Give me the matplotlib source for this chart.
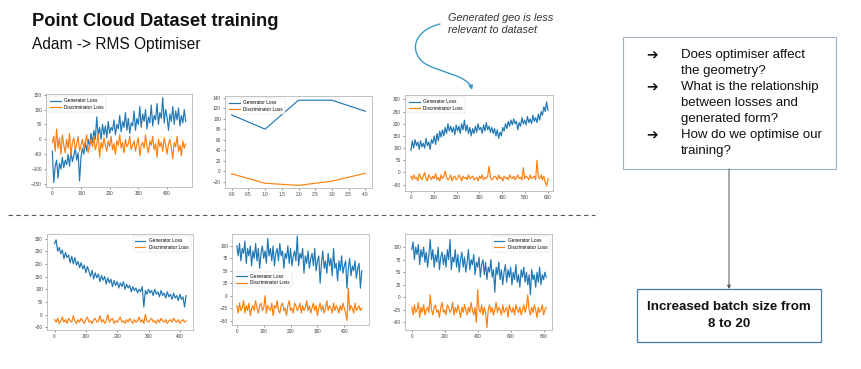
import numpy as np
import matplotlib
matplotlib.use("Agg")
import matplotlib.pyplot as plt
from matplotlib.patches import Rectangle, FancyArrowPatch
from matplotlib.path import Path

plt.rcParams["font.family"] = ["Liberation Sans", "DejaVu Sans"]

BLUE = "#1f77b4"
ORANGE = "#ff7f0e"

# --- panel 1: top left (step 5)
gen1 = [-40, -145, -90, -70, -130, -80, -100, -60, -95, -70, -85, -50, -90, -40, -75, -55,
        -30, -70, -45, -140, -60, -30, -50, -10, -40, 0, -25, 20, -15, 30, 0, 75, 10, 40, 0,
        50, 15, 45, 5, 60, 20, 40, 30, 65, 15, 50, 35, 80, 25, 60, 40, 90, 30, 70, 20, 55, 45,
        95, 30, 70, 50, 110, 40, 85, 60, 100, 35, 75, 55, 115, 45, 80, 65, 120, 50, 90, 70,
        140, 55, 100, 75, 30, 85, 60, 110, 50, 95, 65, 105, 45, 80, 55, 100, 60]
disc1 = [-10, 10, -40, 35, -30, 5, -50, 15, -20, -45, 0, -30, 20, -55, -10, 5, -35, -15, 10,
         -40, -20, 0, -30, -10, 15, -45, -20, 0, -25, 10, -35, -15, 20, -60, -10, -30, 5, -20,
         -40, -5, -25, 10, -35, -15, -50, -5, -20, 15, -30, -10, -45, 0, -25, -15, 10, -35, -20,
         -5, -40, -15, 5, -55, -20, -10, -30, 15, -25, -45, -5, -20, 10, -35, -15, -60, 0, -25,
         -10, -40, 5, -20, -50, -15, 0, -30, -65, -10, -25, 10, -40, -20, -55, -5, -30, -15]

# --- panel 2: top middle (5 epochs)
gen2 = [107, 80, 135, 135, 114]
disc2 = [-5, -23, -27, -19, -4]

# --- panel 3: top right (step 6)
gen3 = [90, 130, 100, 135, 110, 125, 95, 130, 105, 120, 100, 140, 110, 125, 95, 135, 120, 150,
        115, 160, 130, 170, 145, 175, 150, 185, 160, 200, 170, 190, 165, 185, 155, 195, 170, 190,
        160, 200, 175, 215, 170, 195, 160, 185, 150, 180, 160, 190, 165, 200, 175, 185, 160, 195,
        170, 205, 175, 190, 165, 185, 160, 180, 150, 175, 140, 165, 150, 185, 170, 200, 180, 210,
        190, 215, 195, 220, 200, 210, 175, 205, 190, 225, 200, 215, 195, 230, 205, 220, 200, 235,
        210, 225, 205, 240, 215, 250, 235, 270, 250, 290, 255]
disc3 = [-15, -30, -10, -25, -20, -35, -5, -20, -30, -15, 0, -25, -35, -10, -20, -30, -15, -25,
         -5, -30, -20, -35, -10, -25, -15, 5, -20, -30, -25, -10, -35, -20, -15, -30, -25, -10,
         -20, -35, -15, -25, -20, -30, -10, -25, -20, -15, -30, -25, -20, -35, -15, -25, -10, -30,
         -20, -25, -15, 25, -20, -30, -25, -15, -20, -30, -10, -25, -20, -35, -15, -25, -20, -30,
         -10, -20, -25, -15, -30, -20, -10, -25, -20, -30, 20, -25, -15, -20, -30, -10, -25, -20,
         -15, -30, 50, -20, -25, -10, -30, -15, -40, -55, -25]

# --- panel 4: bottom left (step 5)
gen4 = [280, 295, 250, 265, 240, 255, 220, 245, 225, 235, 205, 230, 200, 225, 195, 210, 185, 205,
        180, 195, 165, 190, 170, 150, 175, 140, 165, 145, 160, 130, 155, 135, 150, 120, 145, 125,
        140, 110, 135, 115, 130, 105, 125, 110, 130, 100, 120, 105, 115, 90, 110, 95, 105, 85,
        100, 90, 110, 30, 95, 80, 100, 85, 95, 75, 100, 80, 90, 70, 95, 75, 85, 65, 90, 70, 80,
        60, 85, 65, 75, 55, 80, 60, 70, 30, 75]
disc4 = [-20, -30, -15, -35, -25, -10, -30, -20, -35, -15, -25, -30, -5, -25, -35, -20, -30, -15,
         -25, -35, -20, -10, -30, -25, -35, -20, -15, -30, -25, -5, -30, -20, -35, -25, 0, -30,
         -20, -15, -35, -25, -30, -20, -10, -30, -25, -35, -20, -30, -15, -25, -35, -20, -30, -25,
         -10, -30, -20, -35, 0, -25, -30, -20, -15, -30, -25, -35, -20, -30, -15, -25, -30, -20,
         -35, -25, -20, -30, -15, -25, -30, -20, -35, -25, -20, -30, -25]

# --- panel 5: bottom middle (step 5)
gen5 = [100, 80, 105, 70, 95, 85, 110, 65, 95, 80, 100, 60, 90, 75, 105, 70, 95, 55, 85, 100, 75,
        90, 65, 115, 80, 95, 70, 100, 60, 85, 95, 70, 105, 80, 90, 55, 85, 75, 100, 65, 95, 60,
        80, 90, 70, 120, 60, 85, 75, 95, 45, 80, 65, 90, 55, 75, 85, 60, 95, 50, 70, 80, 25, 65,
        90, 55, 70, 45, 85, 60, 75, 40, 95, 55, 65, 30, 70, 50, 80, 45, 60, 70, 15, 55, 75, 40,
        60, 50, 70, 35, 55, 65, 15, 50]
disc5 = [-20, -35, -15, -30, -25, -10, -35, -20, -30, -15, -40, -25, -20, -30, -10, -25, -35, -20,
         -15, -30, -25, 0, -35, -20, -25, -30, -15, -40, -20, -25, -10, -30, -35, -20, -15, -30,
         -25, -40, -20, -10, -30, -25, -35, -15, -20, -30, -25, -15, -35, -20, -30, -25, -10, -30,
         -20, -35, -25, -15, -30, -20, -40, -25, -15, -30, -20, -35, -25, -10, -30, -20, -25, -35,
         -15, -30, -20, -25, -35, -20, -30, -15, -25, -35, -50, 15, -30, -20, -25, -35, -15, -30,
         -25, -20, -30, -25]

# --- panel 6: bottom right (step 8)
gen6 = [95, 110, 75, 100, 85, 105, 65, 95, 80, 100, 70, 90, 60, 85, 115, 75, 95, 60, 85, 70, 100,
        55, 80, 90, 65, 85, 60, 95, 75, 115, 55, 80, 70, 95, 60, 85, 50, 75, 90, 60, 80, 50, 70,
        95, 55, 75, 65, 85, 45, 70, 60, 80, 40, 65, 75, 45, 70, 35, 60, 50, 75, 40, 55, 10, 60,
        45, 70, 35, 55, 25, 50, 65, 30, 55, 40, 60, 25, 50, 35, 65, 30, 45, 20, 55, 40, 60, 30,
        50, 25, 45, 5, 55, 35, 45, 20, 50, 30, 60, 25, 45, 35, 50, 40]
disc6 = [-20, -35, -15, -30, -25, -10, -40, -20, -30, -15, -35, -25, -20, -30, 5, -25, -35, -20,
         -15, -30, -25, -40, -20, -10, -30, -25, -35, -15, -20, -30, -25, -10, -35, -20, -30, -15,
         -25, -40, -20, -30, -15, -25, -35, -20, -30, -10, -25, -35, -20, -50, 15, -25, -30, -15,
         -35, -20, -30, -60, -25, -15, -30, -20, -35, -25, -10, -30, -20, -25, -35, -15, -30, -25,
         -20, -40, -15, -25, -30, -20, -35, -15, -25, -30, -20, -35, -25, -15, -30, -20, 5, -25,
         -35, -20, -30, -15, -25, -40, -20, -30, -25, -15, -35, -25, -20]

# (gen, disc, epoch step, pixel box l/t/r/b, xlim, ylim, xticks, yticks, legend loc)
PANELS = [
    (gen1, disc1, 5, (46, 94, 192, 187), (-22, 487), (-160, 152),
     [0, 100, 200, 300, 400], [-150, -100, -50, 0, 50, 100, 150], "upper left"),
    (gen2, disc2, 1, (225, 96, 372, 188), (-0.2, 4.2), (-32, 143),
     [0, 0.5, 1, 1.5, 2, 2.5, 3, 3.5, 4], [-20, 0, 20, 40, 60, 80, 100, 120, 140], "upper left"),
    (gen3, disc3, 6, (405, 95, 553, 191), (-26, 622), (-76, 318),
     [0, 100, 200, 300, 400, 500, 600], [-50, 0, 50, 100, 150, 200, 250, 300], "upper left"),
    (gen4, disc4, 5, (47, 234, 193, 330), (-24, 442), (-61, 318),
     [0, 100, 200, 300, 400], [-50, 0, 50, 100, 150, 200, 250, 300], "upper right"),
    (gen5, disc5, 5, (232, 234, 369, 325), (-18, 492), (-59, 124),
     [0, 100, 200, 300, 400], [-50, -25, 0, 25, 50, 75, 100], "center left"),
    (gen6, disc6, 8, (405, 234, 552, 330), (-41, 851), (-65, 126),
     [0, 200, 400, 600, 800], [-50, -25, 0, 25, 50, 75, 100], "upper right"),
]

W, H = 861, 369


def draw_panel(fig, gen, disc, step, box, xlim, ylim, xt, yt, loc):
    l, t, r, b = box
    ax = fig.add_axes([l / W, 1 - b / H, (r - l) / W, (b - t) / H])
    ax.plot(np.arange(len(gen)) * step, gen, color=BLUE, lw=0.85, label="Generator Loss")
    ax.plot(np.arange(len(disc)) * step, disc, color=ORANGE, lw=0.85, label="Discriminator Loss")
    ax.set_xlim(*xlim)
    ax.set_ylim(*ylim)
    ax.set_xticks(xt)
    ax.set_yticks(yt)
    if step == 1:
        ax.set_xticklabels([f"{v:.1f}" for v in xt])
    ax.tick_params(labelsize=3.4, length=1.5, width=0.4, pad=1.5, colors="#444444")
    for s in ax.spines.values():
        s.set_linewidth(0.5)
        s.set_color("#aaaaaa")
    lg = ax.legend(loc=loc, fontsize=3.4, handlelength=2.2, borderpad=0.4,
                   labelspacing=0.3, fancybox=True)
    lg.get_frame().set_linewidth(0.3)
    return ax


def main():
    fig = plt.figure(figsize=(W / 100, H / 100), dpi=100)
    bg = fig.add_axes([0, 0, 1, 1])
    bg.set_xlim(0, W)
    bg.set_ylim(H, 0)
    bg.axis("off")

    bg.text(32, 22, "Point Cloud Dataset training", fontsize=13.2, fontweight="bold",
            va="center", ha="left", color="#111111")
    bg.text(32, 45, "Adam -> RMS Optimiser", fontsize=11.2, va="center", ha="left",
            color="#111111")

    bg.text(448, 24, "Generated geo is less\nrelevant to dataset", fontsize=7.8,
            style="italic", va="center", ha="left", color="#333333", linespacing=1.3)
    curve = Path([(440, 24), (415, 30), (408, 50), (424, 63),
                  (440, 73), (468, 75), (472, 90)],
                 [Path.MOVETO, Path.CURVE4, Path.CURVE4, Path.CURVE4,
                  Path.CURVE4, Path.CURVE4, Path.CURVE4])
    bg.add_patch(FancyArrowPatch(path=curve, arrowstyle="-|>", mutation_scale=6,
                                 color="#3a9bc4", lw=1.0))

    bg.plot([8, 595], [215, 215], color="#555555", lw=0.8, ls=(0, (4, 3)))

    # questions box
    bg.add_patch(Rectangle((623, 37), 213, 132, fill=False, ec="#9fb0c2", lw=0.8))
    lines = [("➔", "Does optimiser affect"), ("", "the geometry?"),
             ("➔", "What is the relationship"), ("", "between losses and"),
             ("", "generated form?"), ("➔", "How do we optimise our"), ("", "training?")]
    for i, (mark, txt) in enumerate(lines):
        y = 55 + i * 16
        if mark:
            bg.text(652, y, mark, fontsize=10, va="center", ha="center",
                    family=["DejaVu Sans"], fontweight="bold", color="#111111")
        bg.text(681, y, txt, fontsize=9.5, va="center", ha="left", color="#111111")

    bg.add_patch(FancyArrowPatch((729, 169), (729, 289), arrowstyle="-|>",
                                 mutation_scale=5, color="#555555", lw=0.7,
                                 shrinkA=0, shrinkB=0))
    bg.add_patch(Rectangle((637, 289), 184, 53, fill=False, ec="#4a78a8", lw=0.9))
    bg.text(729, 315.5, "Increased batch size from\n8 to 20", fontsize=9.6, fontweight="bold",
            va="center", ha="center", color="#111111", linespacing=1.45)

    for p in PANELS:
        draw_panel(fig, *p)

    fig.savefig("out.png", dpi=100)
    plt.close(fig)


if __name__ == "__main__":
    main()
